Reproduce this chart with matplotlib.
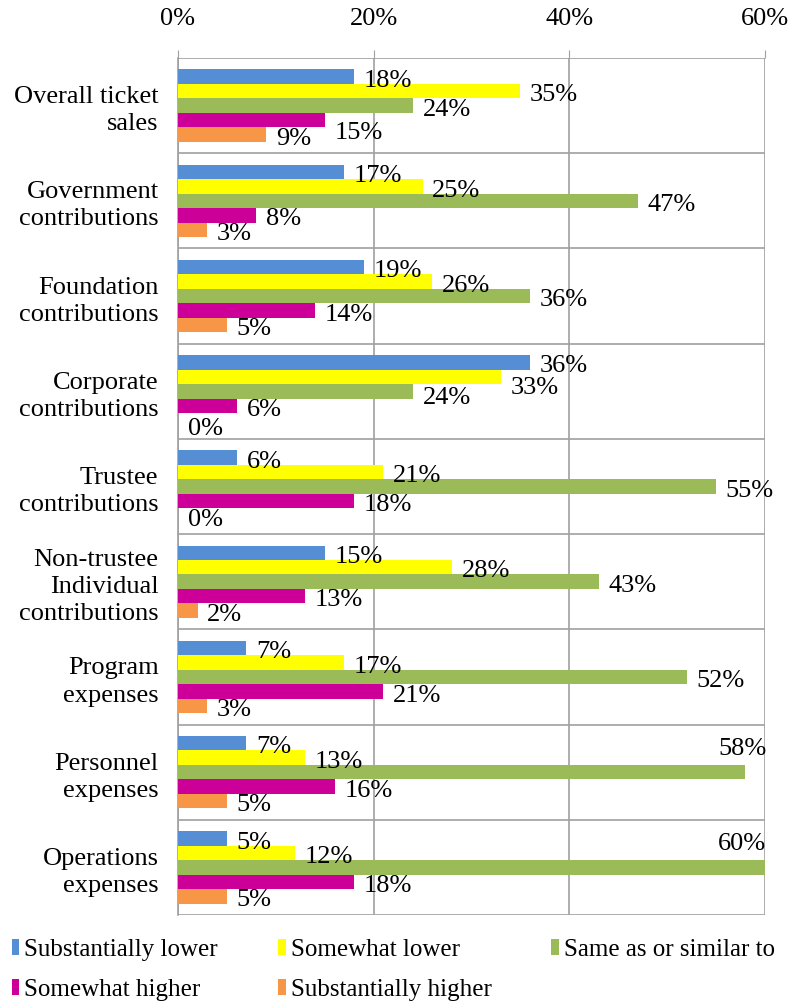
import numpy as np
import matplotlib.pyplot as plt

categories = [
    "Overall ticket\nsales",
    "Government\ncontributions",
    "Foundation\ncontributions",
    "Corporate\ncontributions",
    "Trustee\ncontributions",
    "Non-trustee\nIndividual\ncontributions",
    "Program\nexpenses",
    "Personnel\nexpenses",
    "Operations\nexpenses",
]
series_names = ["Substantially lower", "Somewhat lower", "Same as or similar to",
                "Somewhat higher", "Substantially higher"]
subst_lower = [18, 17, 19, 36, 6, 15, 7, 7, 5]
somewhat_lower = [35, 25, 26, 33, 21, 28, 17, 13, 12]
same_similar = [24, 47, 36, 24, 55, 43, 52, 58, 60]
somewhat_higher = [15, 8, 14, 6, 18, 13, 21, 16, 18]
subst_higher = [9, 3, 5, 0, 0, 2, 3, 5, 5]
colors = ["#558ED5", "#FFFF00", "#9BBB59", "#CC0099", "#F79646"]

series = [subst_lower, somewhat_lower, same_similar, somewhat_higher, subst_higher]

# extra downward nudge (points) for labels that would collide, keyed (category, series)
nudge = {(0, 3): 6, (3, 1): 5, (3, 2): 2, (3, 4): 3}

plt.rcParams['font.family'] = ['Liberation Serif', 'DejaVu Serif']
FS = 19

fig = plt.figure(figsize=(8.01, 10.07), dpi=100)
ax = fig.add_axes([0.2222, 0.0914, 0.7328, 0.851])

n = len(categories)
y = np.arange(n)
h = 0.152
for j, (vals, c) in enumerate(zip(series, colors)):
    pos = y + (j - 2) * h
    ax.barh(pos, vals, height=h, color=c, label=series_names[j], zorder=3)
    for i, (p, v) in enumerate(zip(pos, vals)):
        if v >= 56:
            # no room past the right edge: tuck the label above the bar end
            ax.annotate(f"{v}%", (60, p), xytext=(1, 17), textcoords="offset points",
                        ha="right", va="center", fontsize=FS, zorder=4)
        else:
            dy = -3 - nudge.get((i, j), 0)
            ax.annotate(f"{v}%", (v, p), xytext=(7, dy), textcoords="offset points",
                        ha="left", va="center", fontsize=FS, zorder=4)

ax.set_xlim(0, 60)
ax.set_ylim(n - 0.5, -0.5)
ax.xaxis.tick_top()
ax.set_xticks([0, 20, 40, 60])
ax.set_xticklabels(["0%", "20%", "40%", "60%"], fontsize=FS)
ax.tick_params(axis="x", length=6, color="#A0A0A0", pad=14)
ax.set_yticks(y)
ax.set_yticklabels(categories, fontsize=FS, linespacing=1.3)
ax.tick_params(axis="y", length=0, pad=14)

ax.grid(axis="x", color="#A0A0A0", linewidth=1.2, zorder=0)
for b in np.arange(n + 1) - 0.5:
    ax.axhline(b, color="#A0A0A0", linewidth=1.2, zorder=0)
for s in ["top", "bottom", "right"]:
    ax.spines[s].set_visible(False)
ax.spines["left"].set_color("#A0A0A0")
ax.spines["left"].set_linewidth(1.2)

handles, labels = ax.get_legend_handles_labels()
order = [0, 3, 1, 4, 2]
fig.legend([handles[i] for i in order], [labels[i] for i in order],
           ncol=3, loc="lower left", bbox_to_anchor=(-0.01, -0.014),
           frameon=False, fontsize=18, handlelength=0.3, handleheight=0.6,
           handletextpad=0.2, columnspacing=2.4, labelspacing=0.72,
           borderpad=0.3)

fig.savefig("out.png", dpi=100)
